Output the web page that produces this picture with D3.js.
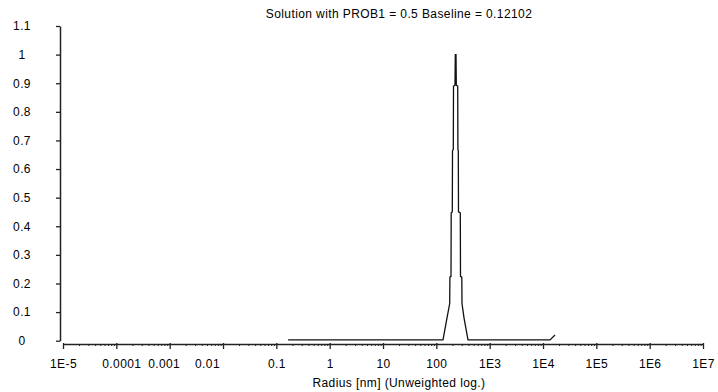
<!DOCTYPE html>
<html>
<head>
<meta charset="utf-8">
<script src="https://cdn.jsdelivr.net/npm/d3@7"></script>
<style>
  html, body { margin: 0; padding: 0; background: #fff; }
  svg { display: block; }
  text { font-family: "Liberation Sans", Arial, sans-serif; font-size: 12px; fill: #000; letter-spacing: 0.4px; }
</style>
</head>
<body>
<svg id="chart" width="718" height="392"></svg>
<script>
// ---- data ----
const titleText = "Solution with PROB1 = 0.5 Baseline = 0.12102";
const xLabelText = "Radius [nm] (Unweighted log.)";
const xTickValues = [1e-5, 1e-4, 1e-3, 1e-2, 1e-1, 1, 10, 100, 1e3, 1e4, 1e5, 1e6, 1e7];
const xTickLabels = ["1E-5", "0.0001", "0.001", "0.01", "0.1", "1", "10", "100", "1E3", "1E4", "1E5", "1E6", "1E7"];
const yTickValues = [0, 0.1, 0.2, 0.3, 0.4, 0.5, 0.6, 0.7, 0.8, 0.9, 1, 1.1];
const yTickLabels = ["0", "0.1", "0.2", "0.3", "0.4", "0.5", "0.6", "0.7", "0.8", "0.9", "1", "1.1"];
// distribution curve (radius in nm, relative amplitude)
const radius = [0.166, 133.4, 158.5, 178.1, 179.6, 188.4, 190.0, 199.2, 201.0, 208.0, 209.9,
                223.9, 226.8, 233.8, 236.8, 251.6, 253.8, 258.2, 260.4, 281.4, 283.9,
                300.3, 302.9, 330.3, 392.6, 13530, 16790];
const amplitude = [0.003, 0.003, 0.08, 0.13, 0.222, 0.225, 0.447, 0.45, 0.665, 0.668, 0.89,
                   0.893, 1.0, 1.0, 0.893, 0.89, 0.668, 0.665, 0.45, 0.447, 0.225,
                   0.222, 0.13, 0.08, 0.003, 0.003, 0.02];

// ---- chart ----
const svg = d3.select("#chart");
const x = d3.scaleLog().domain([1e-5, 1e7]).range([63, 703]);
const y = d3.scaleLinear().domain([0, 1.1]).range([340.7, 26]);
const axisColor = "#222";
const fontFam = "'Liberation Sans', Arial, sans-serif";

// title
svg.append("text")
  .attr("x", 399).attr("y", 18)
  .attr("text-anchor", "middle")
  .text(titleText);

// y axis
const yAxis = svg.append("g")
  .attr("transform", "translate(60,0)")
  .call(d3.axisLeft(y).tickValues(yTickValues).tickSize(4).tickSizeOuter(0)
        .tickFormat((d, i) => yTickLabels[i]));
yAxis.select(".domain").attr("stroke", axisColor).attr("stroke-width", 1.5);
yAxis.selectAll(".tick line").attr("stroke", axisColor).attr("stroke-width", 1.3);
yAxis.selectAll(".tick text")
  .attr("x", -38).attr("text-anchor", "middle")
  .style("font-family", fontFam).style("font-size", "12px");

// x axis (major)
const xAxisG = svg.append("g").attr("transform", "translate(0,344)");
const xAxis = xAxisG.append("g")
  .call(d3.axisBottom(x).tickValues(xTickValues).tickSize(5).tickSizeOuter(0)
        .tickFormat((d, i) => xTickLabels[i]));
xAxis.select(".domain").attr("stroke", axisColor).attr("stroke-width", 1.5);
xAxis.selectAll(".tick line").attr("stroke", axisColor).attr("stroke-width", 1.3).attr("y1", -1);
const labelShift = {"0.0001": 5, "0.001": -6, "0.01": -16};
xAxis.selectAll(".tick text")
  .attr("y", 15)
  .attr("dx", (d, i) => labelShift[xTickLabels[i]] || 0)
  .style("font-family", fontFam).style("font-size", "12px");

// x axis (minor ticks)
const minorVals = [];
xTickValues.slice(0, -1).forEach(v => { for (let k = 2; k <= 9; k++) minorVals.push(v * k); });
const xMinor = xAxisG.append("g")
  .call(d3.axisBottom(x).tickValues(minorVals).tickSize(2).tickFormat(""));
xMinor.select(".domain").remove();
xMinor.selectAll(".tick line").attr("stroke", axisColor).attr("stroke-width", 1);

// x label
svg.append("text")
  .attr("x", 399).attr("y", 387)
  .attr("text-anchor", "middle")
  .text(xLabelText);

// curve
const pts = radius.map((r, i) => [r, amplitude[i]]);
const line = d3.line().x(d => x(d[0])).y(d => y(d[1]));
svg.append("path")
  .datum(pts)
  .attr("d", line)
  .attr("fill", "none")
  .attr("stroke", "#111")
  .attr("stroke-width", 1.3);
</script>
</body>
</html>
